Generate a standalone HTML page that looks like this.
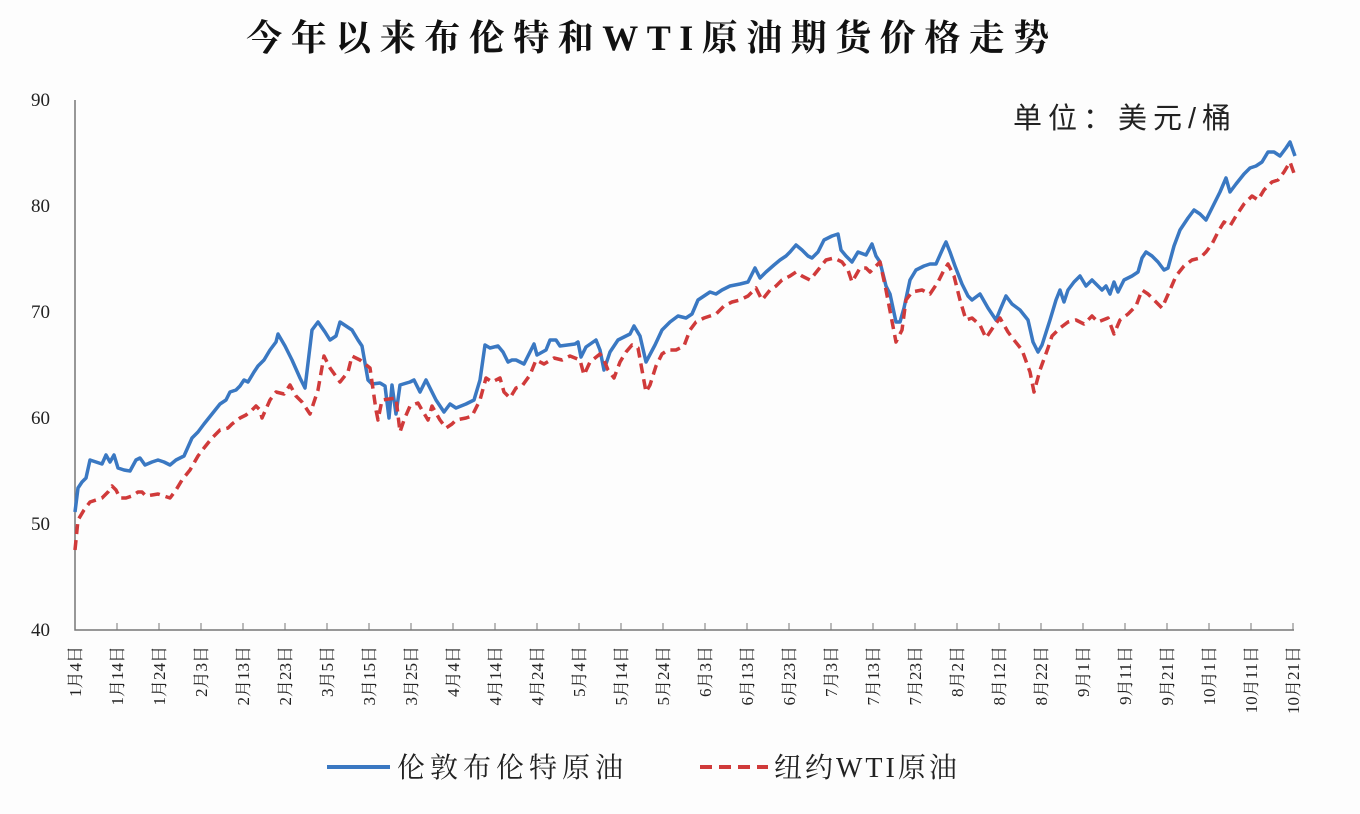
<!DOCTYPE html>
<html><head><meta charset="utf-8"><style>
body{margin:0;background:#fdfdfd;}
svg{display:block;font-family:"Liberation Serif","Noto Serif CJK SC","Noto Sans CJK SC",serif;}
</style></head><body>
<svg width="1360" height="814" viewBox="0 0 1360 814" xmlns="http://www.w3.org/2000/svg">
<rect width="1360" height="814" fill="#fdfdfd"/>
<text x="652" y="50" text-anchor="middle" font-size="36" font-weight="bold" fill="#111" letter-spacing="8.5">今年以来布伦特和WTI原油期货价格走势</text>
<text x="1013" y="128" font-size="29" fill="#222" font-family="Liberation Sans,Noto Sans CJK SC,sans-serif" letter-spacing="6">单位：美元/桶</text>
<g font-size="19" fill="#222" text-anchor="end" font-family="Liberation Serif,serif">
<text x="50" y="106">90</text><text x="50" y="212">80</text><text x="50" y="318">70</text>
<text x="50" y="424">60</text><text x="50" y="530">50</text><text x="50" y="636">40</text>
</g>
<path d="M75,100V630H1294" fill="none" stroke="#777" stroke-width="1.5"/>
<g id="ticks" stroke="#777" stroke-width="1"></g>
<g id="labels" font-size="17" fill="#222"></g>
<polyline fill="none" stroke="#3a78c2" stroke-width="3.5" stroke-linejoin="round" points="75,512 78,488 82,482 86,478 90,460 96,462 102,464 106,455 110,462 114,455 118,468 124,470 130,471 136,460 140,458 145,465 152,462 158,460 164,462 170,465 176,460 184,456 192,438 198,432 204,424 212,414 220,404 226,400 230,392 236,390 240,386 244,380 248,382 254,372 258,366 264,360 270,350 276,342 278,334 285,346 292,360 300,378 305,388 312,330 318,322 325,332 330,340 336,336 340,322 346,326 352,330 358,340 362,346 368,380 372,384 380,383 385,386 389,418 392,385 396,414 400,385 410,382 414,380 420,392 426,380 436,400 444,412 450,404 456,408 466,404 474,400 480,380 485,345 490,348 498,346 503,352 508,362 512,360 516,360 524,364 534,344 537,355 546,350 550,340 556,340 560,346 575,344 578,342 581,357 586,347 596,340 600,350 604,370 610,352 618,340 630,334 634,326 640,336 646,362 655,345 662,330 670,322 678,316 686,318 692,314 698,300 704,296 710,292 716,294 722,290 730,286 740,284 748,282 755,268 760,278 766,272 774,265 780,260 786,256 790,252 796,245 802,250 808,256 812,258 818,252 824,240 832,236 838,234 841,250 846,256 852,262 858,252 866,255 872,244 876,256 880,262 886,286 890,294 896,322 900,322 904,308 910,280 916,270 924,266 930,264 936,264 944,246 946,242 950,252 955,266 962,284 968,296 972,300 980,294 988,308 996,320 1000,310 1006,296 1012,304 1020,310 1028,320 1033,342 1038,352 1042,345 1050,320 1056,300 1060,290 1064,302 1068,290 1074,282 1080,276 1086,286 1092,280 1096,284 1102,290 1106,286 1110,294 1114,282 1118,292 1124,280 1132,276 1138,272 1142,258 1146,252 1152,256 1158,262 1164,270 1168,268 1174,246 1180,230 1188,218 1194,210 1200,214 1206,220 1214,204 1220,192 1226,178 1230,192 1236,184 1244,174 1250,168 1256,166 1262,162 1268,152 1274,152 1280,156 1286,148 1290,142 1295,156"/>
<polyline fill="none" stroke="#d03a3a" stroke-width="3.5" stroke-dasharray="10,6" stroke-linejoin="round" points="75,550 78,520 84,510 90,502 96,500 102,498 108,492 112,486 116,490 120,498 126,498 132,496 138,492 142,492 146,496 152,495 158,494 164,496 170,498 176,490 182,480 190,470 198,456 204,448 212,438 220,430 228,428 232,424 240,418 246,415 252,410 256,406 260,410 262,418 270,400 276,392 284,394 290,385 296,396 302,402 310,414 318,390 324,356 330,368 340,382 348,372 352,356 360,360 370,368 376,410 378,420 382,400 396,398 400,432 404,420 410,406 418,403 422,410 428,420 432,406 440,420 446,428 452,424 456,420 466,418 472,416 480,400 486,378 492,382 500,378 504,392 510,398 516,388 522,386 530,375 536,360 544,364 554,358 562,360 570,356 580,360 584,375 590,362 600,354 604,360 608,370 614,378 620,362 626,352 632,345 638,348 646,392 650,385 656,366 662,354 668,350 676,350 684,346 690,330 696,322 704,318 710,316 716,314 724,306 732,302 740,300 748,296 756,288 762,300 770,290 776,286 782,280 790,276 796,272 802,276 810,280 818,270 826,260 834,258 842,262 848,270 852,282 860,268 866,268 870,272 880,262 886,290 896,342 902,330 906,300 912,292 922,290 930,294 938,282 944,270 948,264 954,276 960,300 966,320 972,318 980,325 986,338 994,326 1000,318 1008,332 1014,340 1022,350 1030,372 1034,392 1040,370 1048,348 1052,336 1060,328 1068,322 1076,320 1084,324 1092,316 1098,322 1108,318 1114,334 1120,320 1128,314 1136,306 1142,290 1148,294 1154,300 1162,308 1170,290 1176,276 1184,266 1192,260 1200,258 1206,252 1212,244 1218,232 1224,222 1230,226 1236,216 1244,204 1252,196 1258,200 1264,190 1272,182 1278,180 1284,172 1290,162 1295,176"/>
<line x1="327" y1="767" x2="390" y2="767" stroke="#3a78c2" stroke-width="4"/>
<text x="397" y="777" font-size="28" fill="#222" letter-spacing="5">伦敦布伦特原油</text>
<line x1="700" y1="767" x2="768" y2="767" stroke="#d03a3a" stroke-width="4" stroke-dasharray="12,7"/>
<text x="774" y="777" font-size="28" fill="#222" letter-spacing="3">纽约WTI原油</text>
</svg>
<script>
var L=["1月4日","1月14日","1月24日","2月3日","2月13日","2月23日","3月5日","3月15日","3月25日","4月4日","4月14日","4月24日","5月4日","5月14日","5月24日","6月3日","6月13日","6月23日","7月3日","7月13日","7月23日","8月2日","8月12日","8月22日","9月1日","9月11日","9月21日","10月1日","10月11日","10月21日"];
var ns="http://www.w3.org/2000/svg",t=document.getElementById("ticks"),g=document.getElementById("labels");
for(var i=0;i<30;i++){var x=75+i*42;
if(i>0){var l=document.createElementNS(ns,"line");l.setAttribute("x1",x);l.setAttribute("x2",x);l.setAttribute("y1",623);l.setAttribute("y2",630);t.appendChild(l);}
var s=document.createElementNS(ns,"text");s.setAttribute("transform","translate("+(x+6)+",646) rotate(-90)");s.setAttribute("text-anchor","end");s.textContent=L[i];g.appendChild(s);}
</script>
</body></html>
